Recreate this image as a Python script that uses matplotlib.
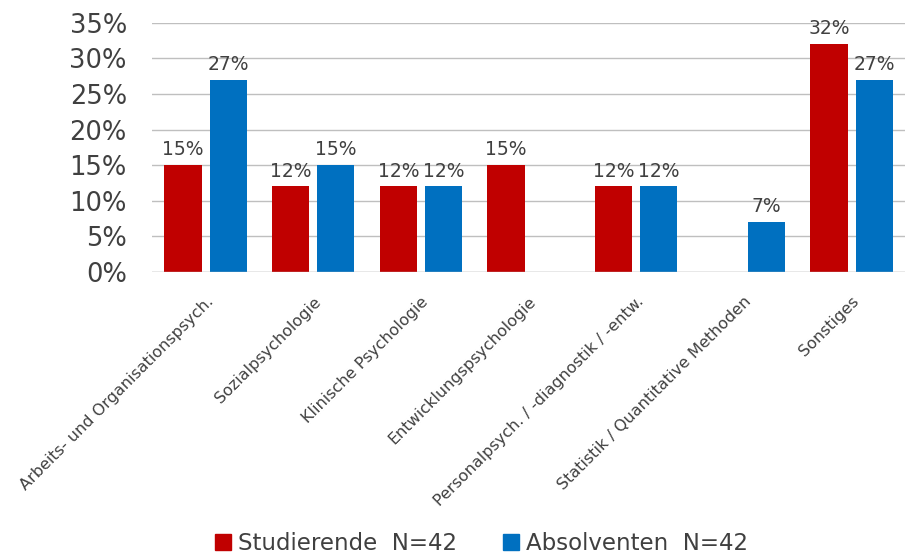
import numpy as np
import matplotlib.pyplot as plt
from matplotlib.patches import Patch

plt.rcParams["font.family"] = ["DejaVu Sans"]

kategorien = ["Arbeits- und Organisationspsych.", "Sozialpsychologie", "Klinische Psychologie",
              "Entwicklungspsychologie", "Personalpsych. / -diagnostik / -entw.",
              "Statistik / Quantitative Methoden", "Sonstiges"]
studierende = [15, 12, 12, 15, 12, 0, 32]
absolventen = [27, 15, 12, 0, 12, 7, 27]
serien = ["Studierende  N=42", "Absolventen  N=42"]

rot = "#C00000"
blau = "#0070C0"

fig = plt.figure(figsize=(9.09, 5.57), dpi=100)
ax = fig.add_axes([0.167, 0.512, 0.829, 0.447])

x = np.arange(len(kategorien))
b = 0.345
off = 0.21
ax.bar(x - off, studierende, b, color=rot, zorder=3)
ax.bar(x + off, absolventen, b, color=blau, zorder=3)

# Werte ueber den Balken, 0 weglassen
for xs, werte in ((x - off, studierende), (x + off, absolventen)):
    for xi, v in zip(xs, werte):
        if v > 0:
            ax.text(xi, v + 0.8, "%d%%" % v, ha="center", va="bottom",
                    fontsize=13.5, color="#404040")

ax.set_xlim(-0.5, len(kategorien) - 0.5)
ax.set_ylim(0, 35)
ax.set_yticks(np.arange(0, 36, 5))
ax.set_yticklabels(["%d%%" % t for t in range(0, 36, 5)], fontsize=18.5, color="#404040")
ax.set_xticks(x)
ax.set_xticklabels(kategorien, rotation=45, ha="right", rotation_mode="anchor",
                   fontsize=11.5, color="#404040")
ax.tick_params(length=0)
ax.tick_params(axis="y", pad=18)
ax.tick_params(axis="x", pad=16)
ax.grid(axis="y", color="#BFBFBF", linewidth=1, zorder=0)
for s in ax.spines.values():
    s.set_visible(False)
ax.axhline(0, color="#BFBFBF", linewidth=1, zorder=4)

handles = [Patch(color=rot), Patch(color=blau)]
fig.legend(handles, serien, loc="center", bbox_to_anchor=(0.53, 0.024), ncol=2,
           frameon=False, fontsize=16.5, handlelength=0.7, handleheight=0.7,
           handletextpad=0.3, columnspacing=2.0, labelcolor="#404040")

fig.savefig("out.png", dpi=100)
